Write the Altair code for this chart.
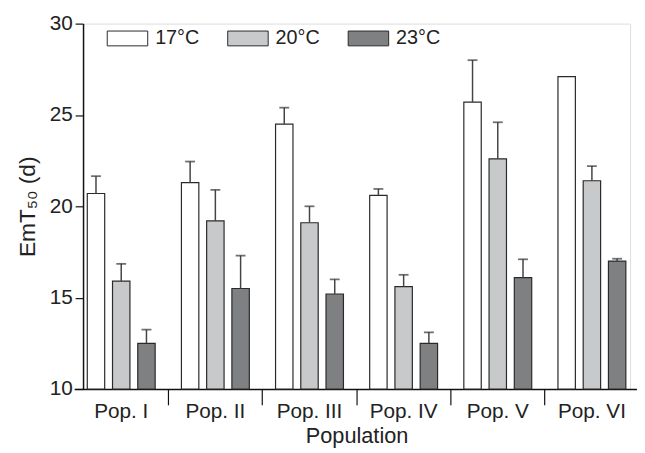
import altair as alt
import pandas as pd

populations = ["Pop. I", "Pop. II", "Pop. III", "Pop. IV", "Pop. V", "Pop. VI"]
temps = ["17°C", "20°C", "23°C"]
mean_17 = [20.7, 21.3, 24.5, 20.6, 25.7, 27.1]
mean_20 = [15.9, 19.2, 19.1, 15.6, 22.6, 21.4]
mean_23 = [12.5, 15.5, 15.2, 12.5, 16.1, 17.0]
err_17 = [0.95, 1.15, 0.9, 0.35, 2.3, 0.0]
err_20 = [0.95, 1.7, 0.9, 0.65, 2.0, 0.8]
err_23 = [0.75, 1.8, 0.8, 0.6, 1.0, 0.13]
colors = ["#ffffff", "#c8c9cb", "#7f8082"]

rows = []
for means, errs, t in [(mean_17, err_17, temps[0]), (mean_20, err_20, temps[1]), (mean_23, err_23, temps[2])]:
    for p, m, e in zip(populations, means, errs):
        rows.append({"pop": p, "temp": t, "mean": m, "err": e, "upper": m + e})
df = pd.DataFrame(rows)

FONT = "Liberation Sans"

xscale = alt.Scale(domain=populations, paddingInner=0, paddingOuter=0, range=[-9, 563])
xoff = alt.XOffset("temp:N", sort=temps,
                   scale=alt.Scale(domain=temps, paddingInner=0.31, paddingOuter=0.52))
yscale = alt.Scale(domain=[10, 30], nice=False, zero=False)

base = alt.Chart(df)

bars = base.mark_bar(stroke="#2a2a2a", strokeWidth=1.2).encode(
    x=alt.X("pop:N", sort=populations, scale=xscale,
            axis=alt.Axis(orient="bottom", title="Population", ticks=False, tickSize=0,
                          labelPadding=12, labelFontSize=21, labelFont=FONT, labelColor="#222",
                          labelAngle=0, titleFontSize=22, titleFont=FONT, titleFontWeight="normal",
                          titleColor="#222", titlePadding=4, domainColor="#111", domainWidth=1.5)),
    xOffset=xoff,
    y=alt.Y("mean:Q", scale=yscale,
            axis=alt.Axis(values=[10, 15, 20, 25, 30], title="EmT₅₀ (d)", grid=False,
                          tickSize=8, tickColor="#111", tickWidth=1.2, domainColor="#111",
                          domainWidth=1.5, labelFontSize=21, labelFont=FONT, labelColor="#222",
                          labelPadding=3, titleFontSize=23, titleFont=FONT,
                          titleFontWeight="normal", titleColor="#222", titlePadding=10)),
    y2=alt.datum(10),
    color=alt.Color("temp:N", sort=temps, scale=alt.Scale(domain=temps, range=colors),
                    legend=alt.Legend(title=None, orient="none", legendX=24, legendY=-6,
                                      direction="horizontal", symbolType="M-1,-0.366H1V0.366H-1Z",
                                      symbolSize=1681, symbolStrokeColor="#2a2a2a",
                                      symbolStrokeWidth=1, symbolOpacity=1, labelFontSize=20,
                                      labelFont=FONT, labelColor="#222", labelOffset=7,
                                      columnPadding=26, padding=0)),
)

errdf = base.transform_filter("datum.err > 0")

rules = errdf.mark_rule(color="#444", strokeWidth=1.5).encode(
    x=alt.X("pop:N", sort=populations, scale=xscale,
            axis=alt.Axis(orient="bottom", title="", values=populations[1:], bandPosition=0,
                          labels=False, domain=False, tickSize=16, tickColor="#111",
                          tickWidth=1.2)),
    xOffset=xoff,
    y=alt.Y("mean:Q", scale=yscale),
    y2="upper:Q",
)

caps = errdf.mark_tick(color="#333", orient="horizontal", size=10, thickness=1.8).encode(
    x=alt.X("pop:N", sort=populations, scale=xscale, axis=None),
    xOffset=xoff,
    y=alt.Y("upper:Q", scale=yscale),
)

chart = alt.layer(bars, rules, caps).resolve_axis(x="independent").properties(
    width=554, height=370,
    autosize=alt.AutoSizeParams(type="none"),
    padding={"left": 76, "top": 13, "right": 7, "bottom": 62},
).configure_view(stroke=None).configure(background="white")

chart.save("out.html", embed_options={"renderer": "svg", "actions": False})
